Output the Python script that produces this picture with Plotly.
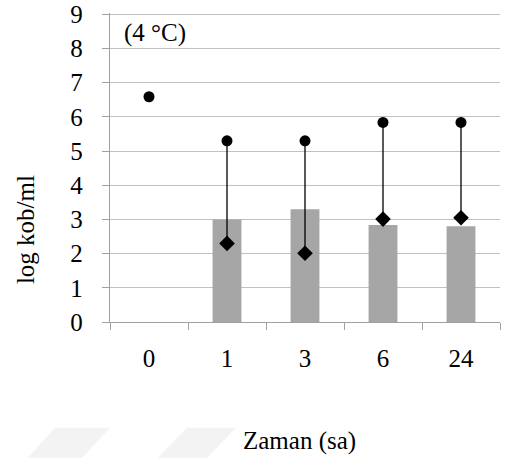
import plotly.graph_objects as go

categories = ["0", "1", "3", "6", "24"]
bar_values = [None, 3.0, 3.3, 2.84, 2.8]
high_values = [6.59, 5.3, 5.3, 5.84, 5.84]
low_values = [None, 2.3, 2.01, 3.01, 3.05]
y_ticks = list(range(0, 10))
y_range = [0, 9.04]

W, H = 505, 458
# reference plot area: x 110..500, value 0 at y=322, value 9 at y=14
UNIT = (322 - 14) / 9
L, R, B = 110, 5, 136
T = 14 - (y_range[1] - 9) * UNIT
PW, PH = W - L - R, H - T - B


def px(x):
    return (x - L) / PW


def py(y):
    return (H - B - y) / PH


font = "Liberation Serif"
FS = 25

fig = go.Figure()

fig.add_trace(go.Bar(x=categories, y=bar_values, width=0.37,
                     marker=dict(color="#a6a6a6", line=dict(width=0)),
                     showlegend=False, hoverinfo="skip"))

lx, ly = [], []
for c, h, l in zip(categories, high_values, low_values):
    if h is not None and l is not None:
        lx += [c, c, None]
        ly += [h, l, None]
fig.add_trace(go.Scatter(x=lx, y=ly, mode="lines",
                         line=dict(color="black", width=1.3),
                         showlegend=False, hoverinfo="skip"))

fig.add_trace(go.Scatter(x=categories, y=high_values, mode="markers",
                         marker=dict(symbol="circle", size=11, color="black"),
                         showlegend=False))
fig.add_trace(go.Scatter(x=categories, y=low_values, mode="markers",
                         marker=dict(symbol="diamond", size=12, color="black"),
                         showlegend=False))

fig.update_layout(
    width=W, height=H,
    margin=dict(l=L, r=R, t=T, b=B, pad=0, autoexpand=False),
    paper_bgcolor="white", plot_bgcolor="white",
    font=dict(family=font, size=FS, color="black"),
)

fig.update_xaxes(type="category", categoryorder="array", categoryarray=categories,
                 showgrid=False, showline=True, linecolor="#a0a0a0", linewidth=1.3,
                 ticks="outside", tickson="boundaries", ticklen=7, tickcolor="#a0a0a0",
                 tickwidth=1.3, ticklabelstandoff=14,
                 tickfont=dict(family=font, size=FS, color="black"),
                 range=[-0.5, 4.5], zeroline=False)

fig.update_yaxes(range=y_range, tickvals=y_ticks, showgrid=True, gridcolor="#c0c0c0",
                 gridwidth=1.3, showline=True, linecolor="#a0a0a0", linewidth=1.3,
                 ticks="outside", ticklen=7, tickcolor="#a0a0a0", tickwidth=1.3,
                 ticklabelstandoff=14, zeroline=False, ticklabeloverflow="allow",
                 tickfont=dict(family=font, size=FS, color="black"))

fig.add_annotation(text="(4 °C)", xref="paper", yref="paper", x=px(122), y=py(33),
                   xanchor="left", yanchor="middle", showarrow=False,
                   font=dict(family=font, size=FS, color="black"))
fig.add_annotation(text="Zaman (sa)", xref="paper", yref="paper", x=px(299), y=py(441),
                   xanchor="center", yanchor="middle", showarrow=False,
                   font=dict(family=font, size=FS, color="black"))
fig.add_annotation(text="log kob/ml", xref="paper", yref="paper", x=px(25), y=py(230),
                   xanchor="center", yanchor="middle", showarrow=False, textangle=-90,
                   font=dict(family=font, size=FS, color="black"))

for pts in ([(55, 428), (110, 428), (82, 458), (28, 458)],
            [(187, 428), (236, 428), (207, 458), (158, 458)]):
    path = "M " + " L ".join(f"{px(a)},{py(b)}" for a, b in pts) + " Z"
    fig.add_shape(type="path", path=path, xref="paper", yref="paper",
                  fillcolor="#f3f3f3", line=dict(width=0), layer="below")

fig.write_html("out.html", config={"displayModeBar": False},
               post_script="document.body.style.margin='0';document.body.style.overflow='hidden';")
